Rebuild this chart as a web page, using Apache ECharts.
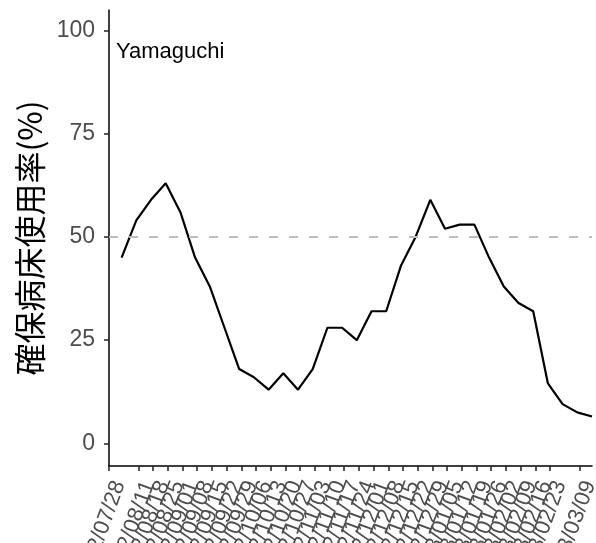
<!DOCTYPE html>
<html>
<head>
<meta charset="utf-8">
<script src="https://cdn.jsdelivr.net/npm/echarts@6/dist/echarts.min.js"></script>
<style>html,body{margin:0;padding:0;background:#fff}#c{width:596px;height:543px}</style>
</head>
<body>
<div id="c"></div>
<script>
// Weekly tick labels (x axis)
const tickLabels = [
  "2022/07/28","2022/08/04","2022/08/11","2022/08/18","2022/08/25",
  "2022/09/01","2022/09/08","2022/09/15","2022/09/22","2022/09/29",
  "2022/10/06","2022/10/13","2022/10/20","2022/10/27","2022/11/03",
  "2022/11/10","2022/11/17","2022/11/24","2022/12/01","2022/12/08",
  "2022/12/15","2022/12/22","2022/12/29","2023/01/05","2023/01/12",
  "2023/01/19","2023/01/26","2023/02/02","2023/02/09","2023/02/16",
  "2023/02/23","2023/03/02","2023/03/09"
];
// Dates of the observations (each sits 6 days after its weekly label)
const dataDates = [
  "2022/08/03","2022/08/10","2022/08/17","2022/08/24","2022/08/31",
  "2022/09/07","2022/09/14","2022/09/21","2022/09/28","2022/10/05",
  "2022/10/12","2022/10/19","2022/10/26","2022/11/02","2022/11/09",
  "2022/11/16","2022/11/23","2022/11/30","2022/12/07","2022/12/14",
  "2022/12/21","2022/12/28","2023/01/04","2023/01/11","2023/01/18",
  "2023/01/25","2023/02/01","2023/02/08","2023/02/15","2023/02/22",
  "2023/03/01","2023/03/08","2023/03/15"
];
// Secured-bed occupancy rate (%)
const occupancy = [
  45, 54, 59, 63, 56, 45, 38, 28, 18, 16,
  13, 17, 13, 18, 28, 28, 25, 32, 32, 43,
  50, 59, 52, 53, 53, 45, 38, 34, 32, 14.5,
  9.5, 7.5, 6.5
];
const yTicks = [0, 25, 50, 75, 100];
const refLine = 50;
const regionName = "Yamaguchi";
const yTitle = "確保病床使用率(%)";

const DAY = 86400000;
const parseD = s => { const p = s.split('/').map(Number); return Date.UTC(p[0], p[1]-1, p[2]); };
const t0 = parseD(tickLabels[0]);
const dayOf = s => Math.round((parseD(s) - t0) / DAY);
const tickDays = tickLabels.map(dayOf);
const seriesData = dataDates.map((d, i) => [dayOf(d), occupancy[i]]);
const labelByDay = {};
tickLabels.forEach((l, i) => { labelByDay[tickDays[i]] = l; });

const FONT = "Liberation Sans, Arial, sans-serif";
const chart = echarts.init(document.getElementById('c'), null, {renderer: 'canvas'});
chart.setOption({
  animation: false,
  backgroundColor: '#fff',
  title: {
    text: regionName, left: 116, top: 41, padding: 0,
    textStyle: {fontFamily: FONT, fontSize: 22, fontWeight: 'normal', color: '#000'}
  },
  grid: {left: 109, right: 4, top: 10, bottom: 77, containLabel: false, outerBoundsMode: 'none'},
  xAxis: {
    type: 'value',
    min: 0,
    max: dayOf(dataDates[dataDates.length - 1]),
    splitLine: {show: false},
    axisLine: {onZero: false, lineStyle: {color: '#000', width: 1.5}},
    axisTick: {show: true, length: 5, lineStyle: {color: '#222', width: 1.5}, customValues: tickDays},
    axisLabel: {
      customValues: tickDays,
      showMinLabel: true, showMaxLabel: true, hideOverlap: false,
      rotate: 70, margin: 12, fontSize: 22, color: '#4d4d4d', fontFamily: FONT,
      align: 'right', verticalAlign: 'top',
      formatter: v => labelByDay[v] || ''
    }
  },
  yAxis: {
    type: 'value',
    min: -5.5, max: 105,
    name: yTitle,
    nameLocation: 'middle',
    nameGap: 60,
    nameRotate: 90,
    nameTextStyle: {fontFamily: "Noto Sans CJK JP, sans-serif", fontSize: 32, color: '#000'},
    splitLine: {show: false},
    axisLine: {show: true, onZero: false, lineStyle: {color: '#000', width: 1.5}},
    axisTick: {show: true, length: 5, lineStyle: {color: '#222', width: 1.5}, customValues: yTicks},
    axisLabel: {customValues: yTicks, fontSize: 23, color: '#4d4d4d', fontFamily: FONT, margin: 14}
  },
  series: [{
    type: 'line',
    data: seriesData,
    symbol: 'none',
    lineStyle: {color: '#000', width: 2.2},
    markLine: {
      silent: true, symbol: ['none', 'none'],
      label: {show: false},
      lineStyle: {color: '#bdbdbd', type: [9, 11], width: 2},
      data: [{yAxis: refLine}]
    }
  }]
});
</script>
</body>
</html>
